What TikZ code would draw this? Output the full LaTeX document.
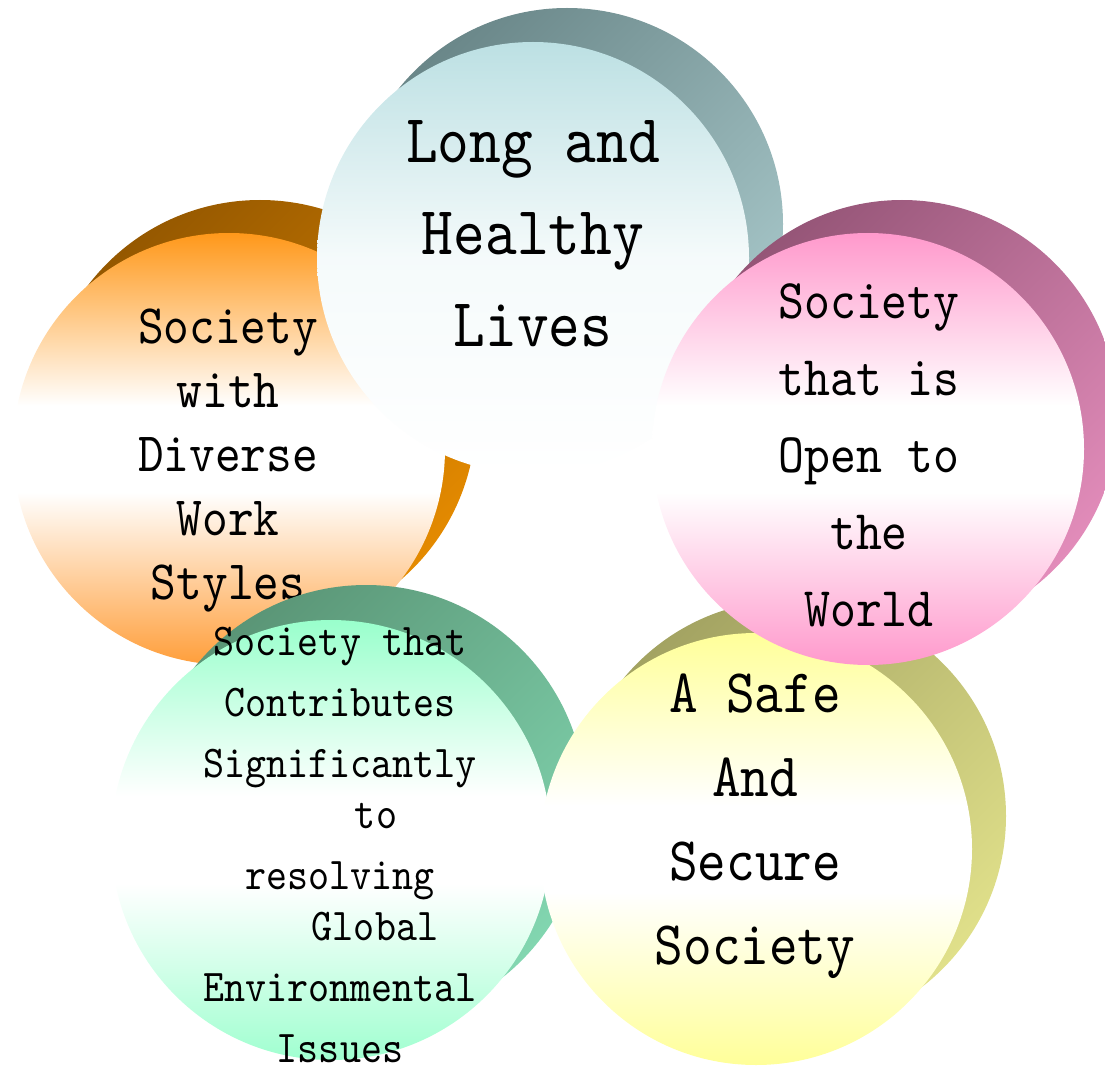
\documentclass[tikz,border=0pt]{standalone}
\usepackage{fontspec}
\usepackage{tikz}
\newfontfamily\discfont{lmmono10-regular.otf}[FakeStretch=0.88]

\definecolor{livesdark}{HTML}{6A8789}
\definecolor{liveslight}{HTML}{A8C8CA}
\definecolor{livestop}{HTML}{BCE0E3}
\definecolor{workdark}{HTML}{955800}
\definecolor{worklight}{HTML}{E48A00}
\definecolor{worktop}{HTML}{FF981A}
\definecolor{workbot}{HTML}{FF9E3A}
\definecolor{opendark}{HTML}{955577}
\definecolor{openlight}{HTML}{E28CBA}
\definecolor{opentop}{HTML}{FF99CC}
\definecolor{envdark}{HTML}{5A9576}
\definecolor{envlight}{HTML}{82D6B0}
\definecolor{envtop}{HTML}{99FFCC}
\definecolor{envbot}{HTML}{A0FFD0}
\definecolor{safedark}{HTML}{A3A362}
\definecolor{safelight}{HTML}{E0E08A}
\definecolor{safetop}{HTML}{FFFF99}

% top colour, white band, bottom colour
\colorlet{disctop}{white}
\colorlet{discbot}{white}
\pgfdeclareverticalshading[disctop,discbot]{discfade}{100bp}{%
  color(0bp)=(discbot); color(25bp)=(discbot); color(45bp)=(white);
  color(55bp)=(white); color(75bp)=(disctop); color(100bp)=(disctop)}

\begin{document}
\begin{tikzpicture}[x=1pt, y=-1pt,
  disc/.style={circle, inner sep=0pt, minimum size=#1},
  disc/.default=432pt,
  shadowdisc/.style 2 args={disc, top color=#1, bottom color=#2, shading angle=45},
  frontdisc/.style 2 args={disc, /utils/exec={\colorlet{disctop}{#1}\colorlet{discbot}{#2}},
    shade, shading=discfade},
  disclabel/.style 2 args={align=center, inner sep=0pt, text=black,
    font={\discfont\fontsize{#1}{#2}\selectfont}}]
\useasboundingbox (0,0) rectangle (1105,1067);

% Diverse work styles (left)
\node[shadowdisc={workdark}{worklight}] (work-sh) at (260,416) {};
\node[frontdisc={worktop}{workbot}] (work) at (229,449) {};
\node[disclabel={55.6}{64}] (work-txt) at (228,461) {Society\\with\\Diverse\\Work\\Styles};

% Long and healthy lives (top)
\node[shadowdisc={livesdark}{liveslight}] (lives-sh) at (567,224) {};
\node[disc, top color=livestop, bottom color=white, middle color=livestop!15] (lives) at (533,258) {};
\node[disclabel={68.7}{92}] (lives-txt) at (533,234) {Long and\\Healthy\\Lives};

% Global environmental issues (bottom left)
\node[shadowdisc={envdark}{envlight}, disc=440pt] (env-sh) at (366,805) {};
\node[frontdisc={envtop}{envbot}, disc=440pt] (env) at (331,840) {};
\node[disclabel={45.5}{61}] (env-txt) at (340,845)
  {Society that\\Contributes\\Significantly\\[-10pt]\hspace*{72pt}to\\resolving\\[-10pt]\hspace*{70pt}Global\\Environmental\\Issues};

% Safe and secure society (bottom right)
\node[shadowdisc={safedark}{safelight}] (safe-sh) at (790,816) {};
\node[frontdisc={safetop}{safetop}] (safe) at (756,849) {};
\node[disclabel={62}{84}] (safe-txt) at (755,826) {A Safe\\And\\Secure\\Society};

% Open to the world (right)
\node[shadowdisc={opendark}{openlight}] (open-sh) at (902,416) {};
\node[frontdisc={opentop}{opentop}] (open) at (868,449) {};
\node[disclabel={56}{77}] (open-txt) at (869,455) {Society\\that is\\Open to\\the\\World};
\end{tikzpicture}
\end{document}
